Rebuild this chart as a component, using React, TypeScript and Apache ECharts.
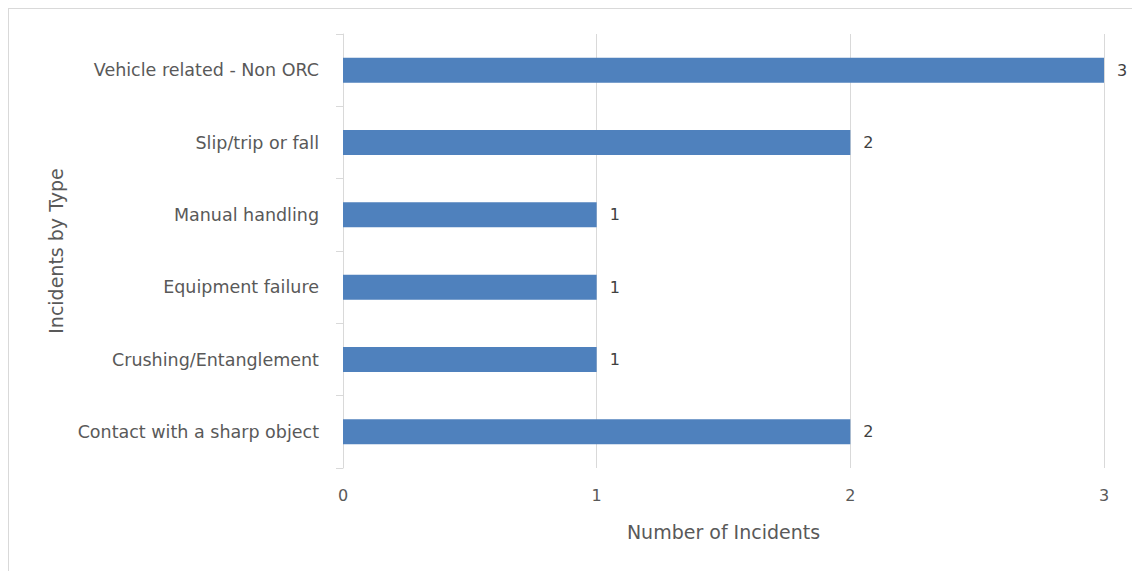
import React, { useEffect, useRef } from "react";
import * as echarts from "echarts";

const categories = [
  "Contact with a sharp object",
  "Crushing/Entanglement",
  "Equipment failure",
  "Manual handling",
  "Slip/trip or fall",
  "Vehicle related - Non ORC",
];
const incidents = [2, 1, 1, 1, 2, 3];
const xTicks = [0, 1, 2, 3];

const FONT = "'DejaVu Sans', sans-serif";

export default function App() {
  const ref = useRef<HTMLDivElement>(null);
  useEffect(() => {
    if (!ref.current) return;
    const chart = echarts.init(ref.current, undefined, { renderer: "svg" });
    chart.setOption({
      animation: false,
      textStyle: { fontFamily: FONT },
      grid: { left: 334, right: 32, top: 25, bottom: 103, containLabel: false },
      xAxis: {
        type: "value",
        min: xTicks[0],
        max: xTicks[xTicks.length - 1],
        interval: 1,
        name: "Number of Incidents",
        nameLocation: "middle",
        nameGap: 54,
        nameTextStyle: { color: "#595959", fontSize: 19, fontFamily: FONT },
        axisLine: { show: false },
        axisTick: { show: false },
        axisLabel: { color: "#595959", fontSize: 16, margin: 19, fontFamily: FONT },
        splitLine: { show: true, lineStyle: { color: "#d9d9d9", width: 1 } },
      },
      yAxis: {
        type: "category",
        data: categories,
        name: "Incidents by Type",
        nameLocation: "middle",
        nameGap: 278,
        nameTextStyle: { color: "#595959", fontSize: 19, fontFamily: FONT },
        axisLine: { show: true, lineStyle: { color: "#d9d9d9", width: 1 } },
        axisTick: { show: true, length: 7, lineStyle: { color: "#d9d9d9" } },
        axisLabel: { color: "#595959", fontSize: 17.5, margin: 24, fontFamily: FONT },
        splitLine: { show: false },
      },
      series: [
        {
          type: "bar",
          data: incidents,
          barWidth: 25,
          itemStyle: { color: "#4f81bd" },
          label: {
            show: true,
            position: "right",
            distance: 13,
            color: "#404040",
            fontSize: 16,
            fontFamily: FONT,
          },
        },
      ],
    });
    return () => chart.dispose();
  }, []);
  return (
    <div
      style={{
        width: 1129,
        height: 563,
        boxSizing: "border-box",
        borderTop: "1px solid #d9d9d9",
        borderLeft: "1px solid #d9d9d9",
        borderRight: "1px solid #d9d9d9",
        background: "#fff",
      }}
    >
      <div ref={ref} style={{ width: 1127, height: 562 }} />
    </div>
  );
}
